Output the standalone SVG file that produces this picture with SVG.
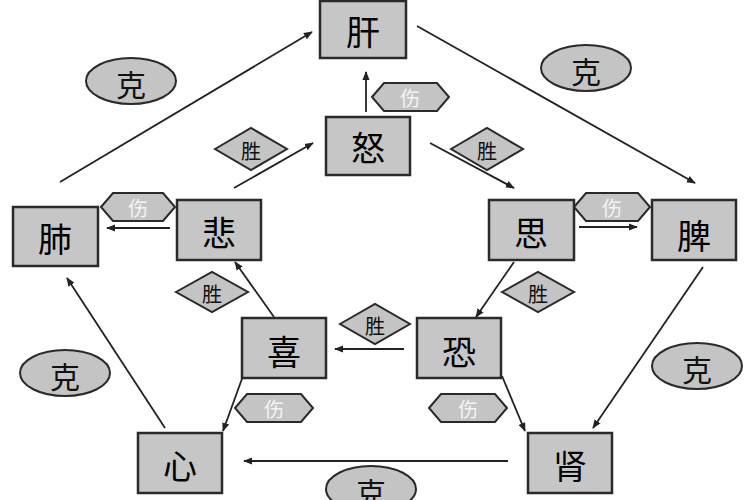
<svg xmlns="http://www.w3.org/2000/svg" width="750" height="500" viewBox="0 0 750 500">
<defs>
<style>
.box{fill:#c6c6c6;stroke:#2a2a2a;stroke-width:2.5}
.bt{font-family:"Noto Sans CJK SC","Noto Sans CJK JP",sans-serif;font-size:34px;fill:#000;text-anchor:middle;dominant-baseline:central}
.ell{fill:#c4c4c4;stroke:#2a2a2a;stroke-width:2}
.et{font-family:"Noto Sans CJK SC",sans-serif;font-size:30px;fill:#111;text-anchor:middle;dominant-baseline:central}
.dia{fill:#c4c4c4;stroke:#2a2a2a;stroke-width:2}
.dt{font-family:"Noto Sans CJK SC",sans-serif;font-size:20px;fill:#111;text-anchor:middle;dominant-baseline:central}
.hex{fill:#c4c4c4;stroke:#2a2a2a;stroke-width:2}
.ht{font-family:"Noto Sans CJK SC",sans-serif;font-size:20px;fill:#f4f4f4;text-anchor:middle;dominant-baseline:central}
.ln{stroke:#222;stroke-width:1.8;fill:none;marker-end:url(#ah)}
</style>
<marker id="ah" viewBox="0 0 10 10" refX="9" refY="5" markerWidth="5" markerHeight="5" orient="auto">
<path d="M0,1 L10,5 L0,9 Z" fill="#222"/>
</marker>
</defs>
<rect width="750" height="500" fill="#fff"/>
<g id="connectors">
<line class="ln" x1="60" y1="182" x2="312" y2="32"/>
<line class="ln" x1="417" y1="26" x2="695" y2="183"/>
<line class="ln" x1="703" y1="267" x2="593" y2="428"/>
<line class="ln" x1="508" y1="461" x2="244" y2="461"/>
<line class="ln" x1="165" y1="428" x2="67" y2="278"/>
<line class="ln" x1="234" y1="188" x2="313" y2="143"/>
<line class="ln" x1="430" y1="143" x2="514" y2="188"/>
<line class="ln" x1="514" y1="262" x2="476" y2="317"/>
<line class="ln" x1="404" y1="349" x2="335" y2="349"/>
<line class="ln" x1="274" y1="317" x2="235" y2="262"/>
<line class="ln" x1="366" y1="112" x2="366" y2="72"/>
<line class="ln" x1="170" y1="228" x2="107" y2="228"/>
<line class="ln" x1="579" y1="227" x2="637" y2="227"/>
<line class="ln" x1="243" y1="376" x2="223" y2="431"/>
<line class="ln" x1="502" y1="376" x2="525" y2="431"/>
</g>
<g id="n-gan"><rect class="box" x="320" y="1" width="86" height="57"/><text class="bt" x="363" y="30">肝</text></g>
<g id="n-nu"><rect class="box" x="326" y="117" width="84" height="58"/><text class="bt" x="368" y="146">怒</text></g>
<g id="n-bei"><rect class="box" x="177" y="200" width="84" height="60"/><text class="bt" x="219" y="231">悲</text></g>
<g id="n-fei"><rect class="box" x="13" y="207" width="85" height="59"/><text class="bt" x="55" y="237">肺</text></g>
<g id="n-si"><rect class="box" x="489" y="200" width="85" height="60"/><text class="bt" x="531" y="231">思</text></g>
<g id="n-pi"><rect class="box" x="652" y="200" width="84" height="60"/><text class="bt" x="694" y="234">脾</text></g>
<g id="n-xi"><rect class="box" x="242" y="318" width="84" height="60"/><text class="bt" x="284" y="350">喜</text></g>
<g id="n-kong"><rect class="box" x="417" y="318" width="84" height="60"/><text class="bt" x="459" y="350">恐</text></g>
<g id="n-xin"><rect class="box" x="138" y="433" width="84" height="60"/><text class="bt" x="180" y="464">心</text></g>
<g id="n-shen"><rect class="box" x="528" y="433" width="84" height="60"/><text class="bt" x="570" y="464">肾</text></g>
<g id="ke1"><ellipse class="ell" cx="131" cy="81" rx="45" ry="23"/><text class="et" x="131" y="83">克</text></g>
<g id="ke2"><ellipse class="ell" cx="586" cy="68" rx="45" ry="23"/><text class="et" x="586" y="70">克</text></g>
<g id="ke3"><ellipse class="ell" cx="65" cy="373" rx="45" ry="23"/><text class="et" x="65" y="375">克</text></g>
<g id="ke4"><ellipse class="ell" cx="697" cy="366" rx="45" ry="23"/><text class="et" x="697" y="368">克</text></g>
<g id="ke5"><ellipse class="ell" cx="371" cy="489" rx="45" ry="23"/><text class="et" x="371" y="491">克</text></g>
<g id="sheng1"><polygon class="dia" points="215,149 251,128 287,149 251,170"/><text class="dt" x="251" y="150">胜</text></g>
<g id="sheng2"><polygon class="dia" points="451,149 487,128 523,149 487,170"/><text class="dt" x="487" y="150">胜</text></g>
<g id="sheng3"><polygon class="dia" points="176,292 212,272 248,292 212,312"/><text class="dt" x="212" y="293">胜</text></g>
<g id="sheng4"><polygon class="dia" points="502,292 538,272 574,292 538,312"/><text class="dt" x="538" y="293">胜</text></g>
<g id="sheng5"><polygon class="dia" points="340,324 375,304 410,324 375,344"/><text class="dt" x="375" y="325">胜</text></g>
<g id="shang1"><polygon class="hex" points="372,97 384,83 437,83 449,97 437,111 384,111"/><text class="ht" x="410" y="97">伤</text></g>
<g id="shang2"><polygon class="hex" points="101,207 113,193 163,193 175,207 163,221 113,221"/><text class="ht" x="138" y="207">伤</text></g>
<g id="shang3"><polygon class="hex" points="574,207 586,193 638,193 650,207 638,221 586,221"/><text class="ht" x="612" y="207">伤</text></g>
<g id="shang4"><polygon class="hex" points="235,408 247,394 301,394 313,408 301,422 247,422"/><text class="ht" x="274" y="408">伤</text></g>
<g id="shang5"><polygon class="hex" points="429,408 441,394 495,394 507,408 495,422 441,422"/><text class="ht" x="468" y="408">伤</text></g>
</svg>
